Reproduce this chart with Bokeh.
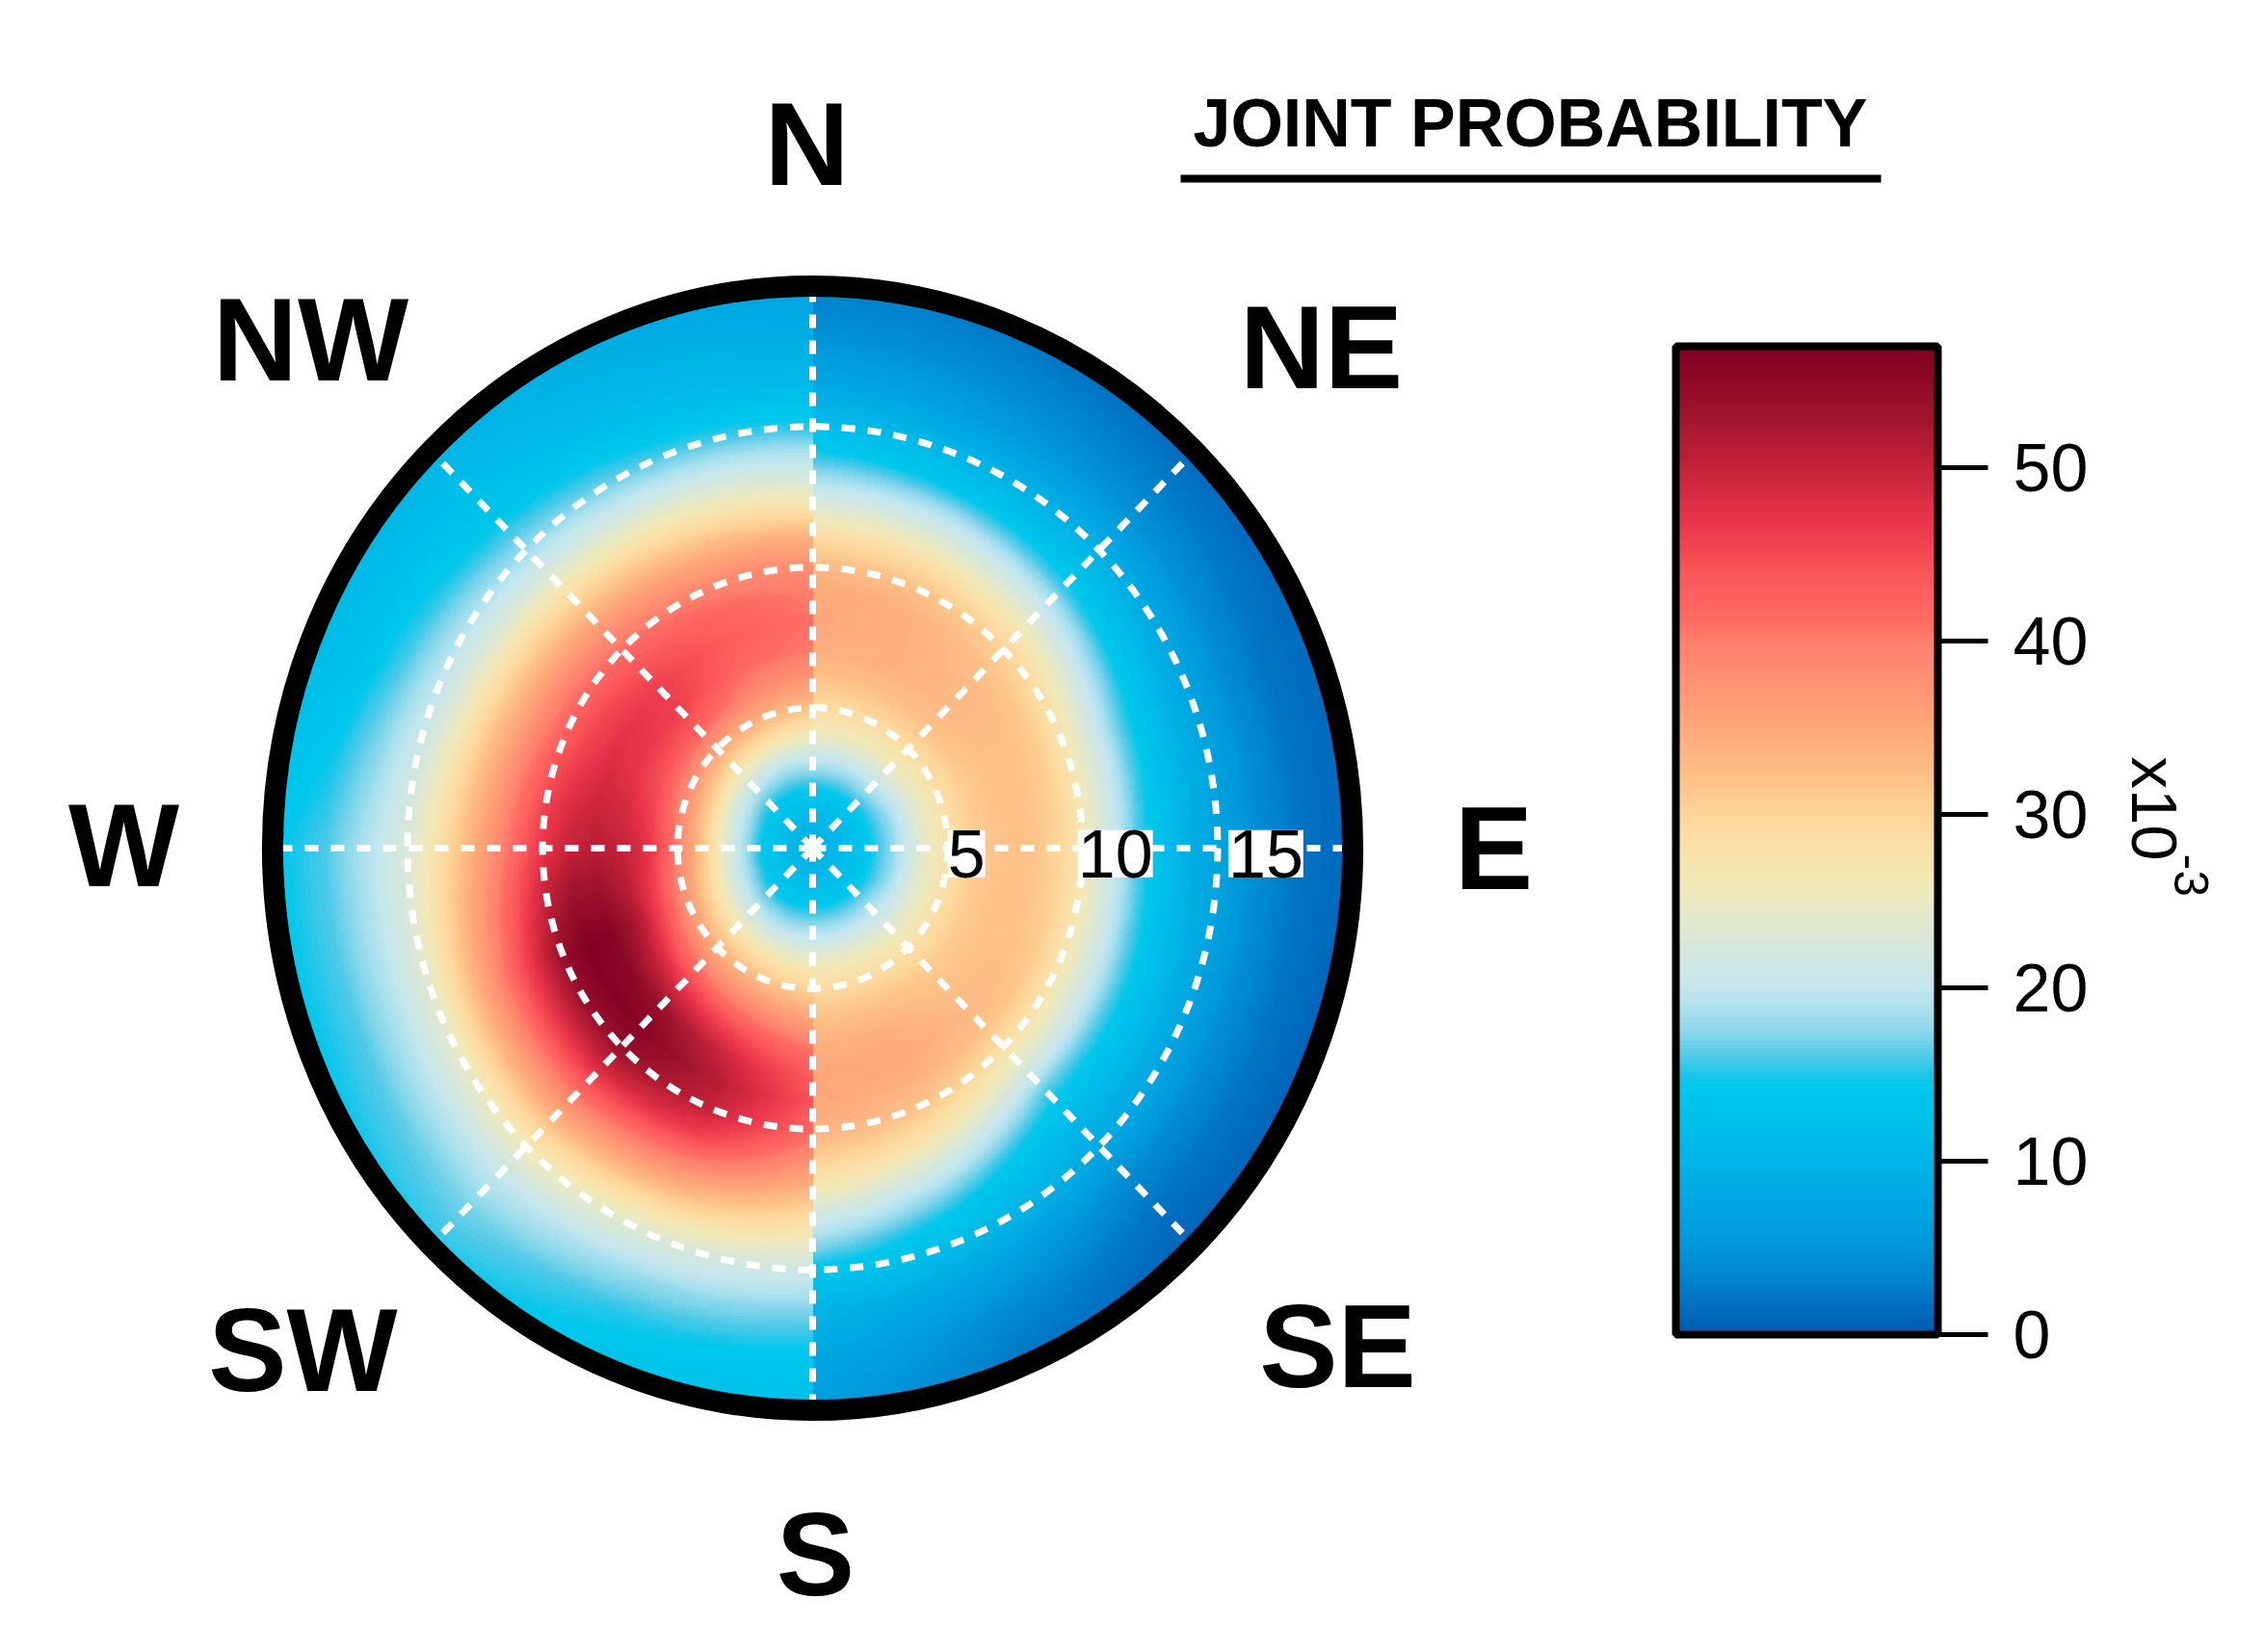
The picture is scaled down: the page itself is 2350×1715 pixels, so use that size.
import numpy as np
from bokeh.plotting import figure
from bokeh.models import Range1d, LinearColorMapper, ColorBar, FixedTicker, Label
from bokeh.embed import file_html
from bokeh.resources import INLINE
from bokeh.core.properties import value

# ---------------- data (joint probability, x10^-3) ----------------
SPEED = [0, 1, 2, 3, 4, 5, 6, 7, 8, 9, 10, 11, 12, 13, 14, 15, 16.5, 18, 20]

# east half of the rose (N -> E -> S), direction in degrees clockwise from N
DIR_EAST = [0, 22.5, 45, 67.5, 90, 112.5, 135, 157.5, 180]
PROB_E000 = [9, 11, 14, 19, 25, 29, 32, 34, 35, 35, 33, 29, 24, 19, 15, 12, 8, 5, 3]
PROB_E022 = [9, 11, 14, 19, 25, 29, 32, 34, 34, 34, 32, 28, 23, 18, 13, 10, 6, 4, 2]
PROB_E045 = [9, 11, 14, 19, 25, 29, 32, 33, 33, 32, 30, 26, 21, 16, 12, 9, 5, 3, 1]
PROB_E067 = [9, 11, 14, 18, 24, 28, 31, 32, 32, 31, 27, 22, 17, 13, 10, 7, 4, 2, 1]
PROB_E090 = [9, 11, 14, 18, 24, 28, 31, 32, 32, 30, 26, 21, 16, 12, 9, 7, 4, 2, 1]
PROB_E112 = [9, 11, 14, 18, 24, 28, 31, 32, 32, 31, 27, 22, 17, 13, 10, 7, 4, 2, 0.5]
PROB_E135 = [9, 11, 14, 19, 24, 28, 31, 32, 33, 32, 28, 23, 17, 13, 10, 8, 4, 2, 0.5]
PROB_E157 = [9, 11, 14, 19, 25, 29, 32, 34, 35, 34, 32, 28, 23, 18, 14, 11, 7, 4, 2]
PROB_E180 = [9, 11, 14, 19, 25, 29, 32, 34, 35, 35, 34, 31, 27, 22, 18, 14, 10, 8, 6]

# west half of the rose (S -> W -> N)
DIR_WEST = [180, 202.5, 225, 247.5, 270, 292.5, 315, 337.5, 360]
PROB_W180 = [9, 11, 14, 19, 25, 30, 35, 40, 43, 44, 42, 38, 34, 29, 25, 21, 17, 14, 12]
PROB_W202 = [9, 11, 14, 19, 26, 32, 38, 44, 49, 51, 50, 46, 40, 34, 28, 23, 18, 15, 13]
PROB_W225 = [9, 11, 14, 20, 27, 34, 41, 48, 54, 56, 54, 49, 43, 37, 31, 26, 20, 17, 15]
PROB_W247 = [9, 11, 15, 21, 29, 37, 45, 52, 56, 57, 54, 48, 42, 36, 30, 24, 19, 16, 14]
PROB_W270 = [9, 11, 15, 22, 31, 40, 47, 50, 51, 50, 47, 42, 37, 32, 27, 23, 19, 16, 14]
PROB_W292 = [9, 11, 15, 21, 30, 38, 44, 47, 48, 46, 43, 39, 34, 29, 24, 20, 16, 13, 11]
PROB_W315 = [9, 11, 14, 20, 28, 36, 43, 46, 46, 44, 41, 37, 32, 27, 22, 18, 14, 12, 10]
PROB_W337 = [9, 11, 14, 19, 27, 34, 39, 42, 43, 42, 39, 35, 30, 25, 20, 16, 12, 10, 8]
PROB_W360 = [9, 11, 14, 19, 26, 32, 37, 40, 41, 40, 38, 34, 28, 23, 19, 15, 11, 9, 7]

RING_TICKS = [5, 10, 15]
R_MAX = 20
SPOKES = [0, 45, 90, 135, 180, 225, 270, 315]
COMPASS = ["N", "NE", "E", "SE", "S", "SW", "W", "NW"]
CB_TICKS = [0, 10, 20, 30, 40, 50]
CB_LOW, CB_HIGH = 0, 57
TITLE = "JOINT PROBABILITY"

# ---------------- styling / layout constants ----------------
# label centres as pixel offsets from the rose centre (right, down)
COMPASS_OFFSET_PX = [(-6, -731), (528, -520), (707, 0), (545, 517),
                     (3, 733), (-529, 521), (-715, -3), (-521, -528)]
RING_LABEL_DX_PX = [0, -5, 11]

ANCHORS = [
    (0, "#005cb2"), (1, "#0068bc"), (3, "#0082cc"), (5, "#0096d8"), (7, "#00a4e0"),
    (10, "#00b4e6"), (12, "#00bfea"), (14.3, "#00c8ec"), (15, "#22c7ea"), (16, "#50cae8"),
    (17, "#7cd4ea"), (18.5, "#a8e0ee"), (20, "#c3e6ee"), (22, "#d2e7de"), (24, "#e4e9cc"),
    (26, "#f2eab8"), (28, "#fae0a8"), (30, "#fdd598"), (32, "#fdc288"), (34, "#fdb07e"),
    (36, "#ffa077"), (38, "#ff8f72"), (40, "#ff7f6d"), (41, "#ff6e64"), (43, "#ff5e5e"),
    (45, "#f34a52"), (47, "#e8344a"), (50, "#c62339"), (53, "#a0142e"), (57, "#800022"),
]


def build_palette(n=256):
    vals = np.array([a[0] for a in ANCHORS], dtype=float)
    rgb = np.array([[int(c[1][i:i + 2], 16) for i in (1, 3, 5)] for c in ANCHORS], dtype=float)
    t = np.linspace(CB_LOW, CB_HIGH, n)
    out = []
    for tv in t:
        r, g, b = (np.interp(tv, vals, rgb[:, k]) for k in range(3))
        out.append("#%02x%02x%02x" % (int(round(r)), int(round(g)), int(round(b))))
    return out


PALETTE = build_palette()

# ---------------- page geometry ----------------
W, H = 2334, 1699
SX, SY = 28.03, 29.18          # px per speed unit (x, y)
CXP, CYP = 843, 880            # centre of rose in page pixels


def dx(px):
    return (px - CXP) / SX


def dy(py):
    return (CYP - py) / SY


p = figure(width=W, height=H, output_backend="svg", toolbar_location=None,
           x_range=Range1d(-CXP / SX, (W - CXP) / SX),
           y_range=Range1d(-(H - CYP) / SY, CYP / SY),
           x_axis_location=None, y_axis_location=None, min_border=0)
p.outline_line_color = None
p.xgrid.visible = False
p.ygrid.visible = False
p.background_fill_color = "white"
p.border_fill_color = "white"

mapper = LinearColorMapper(palette=PALETTE, low=CB_LOW, high=CB_HIGH, nan_color="rgba(0,0,0,0)")

# ---------------- shaded polar surface ----------------
EAST = np.array([PROB_E000, PROB_E022, PROB_E045, PROB_E067, PROB_E090,
                 PROB_E112, PROB_E135, PROB_E157, PROB_E180], dtype=float)
WEST = np.array([PROB_W180, PROB_W202, PROB_W225, PROB_W247, PROB_W270,
                 PROB_W292, PROB_W315, PROB_W337, PROB_W360], dtype=float)


def shade(theta, r, dirs, g):
    step = dirs[1] - dirs[0]
    t = (theta - dirs[0]) / step
    i0 = np.clip(np.floor(t).astype(int), 0, len(dirs) - 2)
    w = np.clip(t - i0, 0, 1)
    j = np.interp(r, SPEED, np.arange(len(SPEED)))
    j0 = np.clip(np.floor(j).astype(int), 0, len(SPEED) - 2)
    v = j - j0
    return ((1 - w) * (1 - v) * g[i0, j0] + w * (1 - v) * g[i0 + 1, j0]
            + (1 - w) * v * g[i0, j0 + 1] + w * v * g[i0 + 1, j0 + 1])


N = 760
xs = -R_MAX + (np.arange(N) + 0.5) * 2 * R_MAX / N
X, Y = np.meshgrid(xs, xs)
RR = np.hypot(X, Y)
TH = np.degrees(np.arctan2(X, Y)) % 360
val = np.where(TH < 180, shade(TH, RR, DIR_EAST, EAST), shade(TH, RR, DIR_WEST, WEST))
val[RR > R_MAX + 0.3] = np.nan
p.image(image=[val.astype(np.float32)], x=-R_MAX, y=-R_MAX, dw=2 * R_MAX, dh=2 * R_MAX,
        color_mapper=mapper)

# ---------------- grid ----------------
p.ellipse(x=[0] * len(RING_TICKS), y=[0] * len(RING_TICKS),
          width=[2 * r for r in RING_TICKS], height=[2 * r for r in RING_TICKS],
          fill_color=None, line_color="white", line_width=7, line_dash="14 13")
sp = np.radians(SPOKES)
p.segment(x0=[0] * len(SPOKES), y0=[0] * len(SPOKES),
          x1=list(R_MAX * np.sin(sp)), y1=list(R_MAX * np.cos(sp)),
          line_color="white", line_width=7, line_dash="14 13")

# outer rim
p.ellipse(x=[0], y=[0], width=[2 * R_MAX], height=[2 * R_MAX],
          fill_color=None, line_color="black", line_width=22)

# ring labels
for r, ddx in zip(RING_TICKS, RING_LABEL_DX_PX):
    p.add_layout(Label(x=r + ddx / SX, y=-0.2, text=str(r), text_align="left",
                       text_baseline="middle", text_font="Liberation Sans",
                       text_font_size="70px", text_color="black",
                       background_fill_color="white", background_fill_alpha=1.0))

# compass labels
p.text(x=[ox / SX for ox, oy in COMPASS_OFFSET_PX], y=[-oy / SY for ox, oy in COMPASS_OFFSET_PX],
       text=COMPASS, text_font=value("Liberation Sans"), text_font_style="bold",
       text_font_size="122px", text_align="center", text_baseline="middle", text_color="black")

# title + underline
p.add_layout(Label(x=dx(1588), y=dy(127), text=TITLE, text_align="center", text_baseline="middle",
                   text_font="Liberation Sans", text_font_style="bold", text_font_size="70px",
                   text_color="black"))
p.segment(x0=[dx(1225)], y0=[dy(185)], x1=[dx(1952)], y1=[dy(185)],
          line_color="black", line_width=8)

# ---------------- colour bar ----------------
cb = ColorBar(color_mapper=mapper, ticker=FixedTicker(ticks=CB_TICKS), orientation="vertical",
              width=272, height=1026, location=(1739, H - 1385), padding=0,
              bar_line_color="black", bar_line_width=8,
              major_tick_in=0, major_tick_out=52, major_tick_line_color="black",
              major_tick_line_width=5, minor_tick_line_color=None,
              major_label_text_font="Liberation Sans", major_label_text_font_size="70px",
              major_label_text_color="black", label_standoff=26,
              background_fill_alpha=0, border_line_color=None)
p.add_layout(cb, "center")

p.add_layout(Label(x=dx(2236), y=dy(785), text="x10", angle=-np.pi / 2, text_align="left",
                   text_baseline="alphabetic", text_font="Liberation Sans",
                   text_font_size="67px", text_color="black"))
p.add_layout(Label(x=dx(2274), y=dy(886), text="-3", angle=-np.pi / 2, text_align="left",
                   text_baseline="alphabetic", text_font="Liberation Sans",
                   text_font_size="50px", text_color="black"))

open("out.html", "w").write(file_html(p, INLINE))
